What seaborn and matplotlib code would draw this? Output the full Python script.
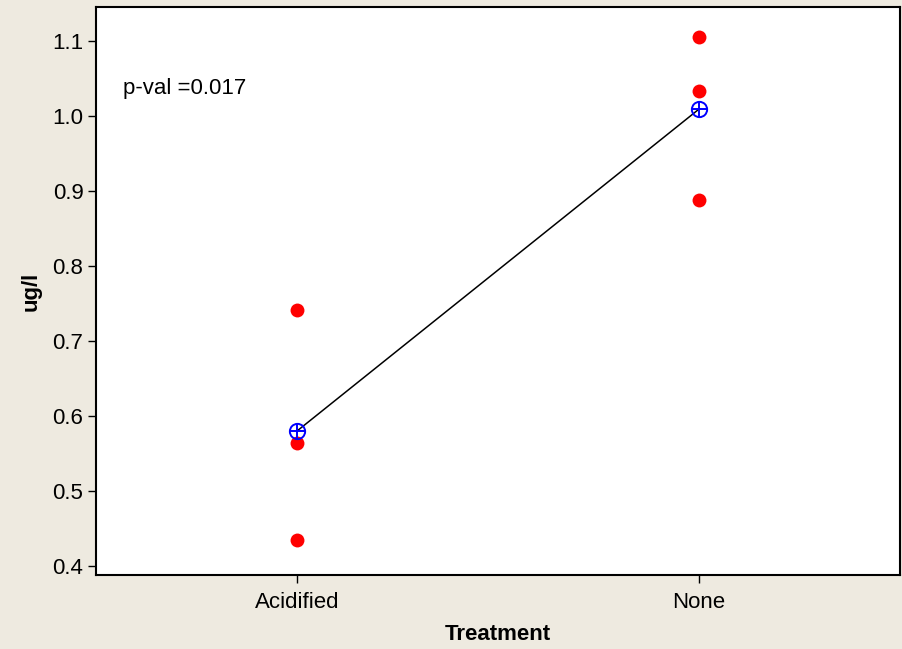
import matplotlib
matplotlib.use('Agg')
import matplotlib.pyplot as plt
import seaborn as sns
import pandas as pd
import numpy as np

sns.set_style("white")
plt.rcParams['font.family'] = ['Liberation Sans', 'DejaVu Sans']
plt.rcParams['text.color'] = 'black'
plt.rcParams['axes.labelcolor'] = 'black'
plt.rcParams['xtick.color'] = 'black'
plt.rcParams['ytick.color'] = 'black'

# data
treatments = ['Acidified', 'None']
acidified_vals = [0.741, 0.564, 0.435]
none_vals = [1.106, 1.034, 0.888]

df = pd.DataFrame({
    'Treatment': ['Acidified'] * len(acidified_vals) + ['None'] * len(none_vals),
    'ug/l': acidified_vals + none_vals,
})
means = df.groupby('Treatment')['ug/l'].mean().reindex(treatments)

bg = '#EEEAE0'
fig = plt.figure(figsize=(9.02, 6.49), dpi=100, facecolor=bg)
ax = fig.add_axes([0.1064, 0.114, 0.8914, 0.875])
ax.set_facecolor('white')

sns.pointplot(data=df, x='Treatment', y='ug/l', order=treatments, errorbar=None,
              color='black', markers='', linewidth=1.1, ax=ax)
sns.stripplot(data=df, x='Treatment', y='ug/l', order=treatments, jitter=False,
              color='#FF0000', size=10, linewidth=0, ax=ax, zorder=3)

pos = np.arange(len(treatments))
ax.plot(pos, means.values, linestyle='none', marker='o', markersize=11,
        markerfacecolor='none', markeredgecolor='#0000FF', markeredgewidth=1.4, zorder=4)
ax.plot(pos, means.values, linestyle='none', marker='+', markersize=11,
        color='#0000FF', markeredgewidth=1.4, zorder=4)

ax.set_xlim(-0.5, 1.5)
ax.set_ylim(0.388, 1.1453)
ax.set_yticks([0.4, 0.5, 0.6, 0.7, 0.8, 0.9, 1.0, 1.1])
ax.set_yticklabels(['0.4', '0.5', '0.6', '0.7', '0.8', '0.9', '1.0', '1.1'])

ax.text(0.033, 0.857, 'p-val =0.017', transform=ax.transAxes, fontsize=16,
        ha='left', va='center')

ax.set_xlabel('Treatment', fontsize=16, fontweight='bold', labelpad=8)
ax.set_ylabel('ug/l', fontsize=16, fontweight='bold', labelpad=8)

ax.tick_params(axis='both', which='major', direction='out', length=6, width=1,
               labelsize=16, color='black', left=True, bottom=True)
ax.tick_params(axis='y', pad=3)
ax.tick_params(axis='x', pad=6)
for s in ax.spines.values():
    s.set_visible(True)
    s.set_color('black')
    s.set_linewidth(1.5)

plt.savefig('out.png', dpi=100, facecolor=bg)
plt.close()
